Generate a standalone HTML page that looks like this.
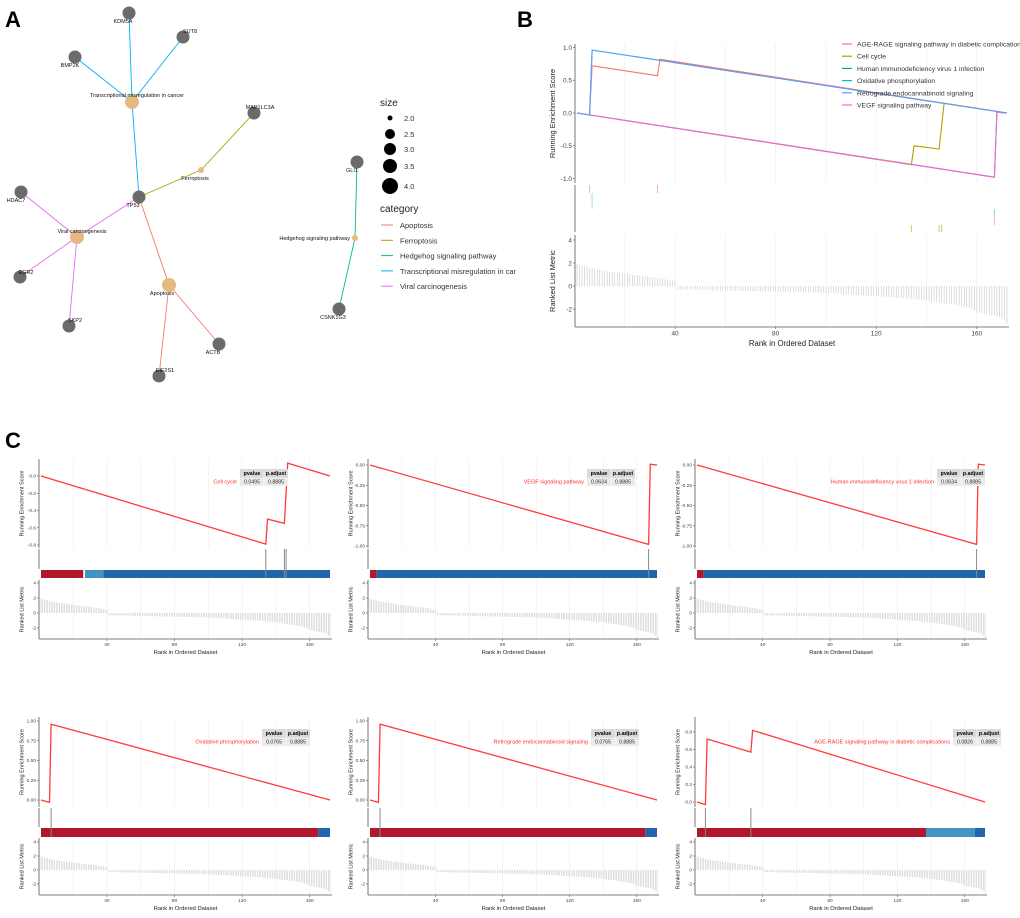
<!DOCTYPE html>
<html><head><meta charset="utf-8"><style>
html,body{margin:0;padding:0;background:#fff;}
svg{display:block;font-family:"Liberation Sans",sans-serif;}
</style></head><body>
<svg id="fig" width="1020" height="918" viewBox="0 0 1020 918" xmlns="http://www.w3.org/2000/svg"></svg>
<script>
// ---------- DATA ----------
const metric=[1.9,1.8,1.75,1.7,1.65,1.6,1.55,1.5,1.45,1.4,1.38,1.35,1.3,1.27,1.25,1.2,1.17,1.15,1.1,1.07,1.05,1.0,0.98,0.95,0.92,0.9,0.87,0.85,0.82,0.8,0.77,0.75,0.72,0.7,0.65,0.6,0.55,0.5,0.45,0.4,
-0.3,-0.3,-0.31,-0.31,-0.32,-0.32,-0.33,-0.33,-0.34,-0.34,-0.35,-0.35,-0.36,-0.36,-0.37,-0.37,-0.38,-0.38,-0.39,-0.39,-0.4,-0.4,-0.41,-0.41,-0.42,-0.42,-0.43,-0.43,-0.44,-0.44,-0.45,-0.45,-0.46,-0.46,-0.47,-0.47,-0.48,-0.48,-0.49,-0.49,-0.5,-0.5,-0.51,-0.51,-0.52,-0.52,-0.53,-0.53,-0.54,-0.54,-0.55,-0.55,-0.56,-0.56,-0.57,-0.57,-0.58,-0.58,-0.59,-0.6,
-0.62,-0.63,-0.65,-0.66,-0.68,-0.69,-0.7,-0.72,-0.73,-0.75,-0.76,-0.78,-0.79,-0.8,-0.82,-0.83,-0.85,-0.86,-0.88,-0.89,-0.9,-0.92,-0.93,-0.95,-0.96,-0.98,-0.99,-1.0,-1.02,-1.04,-1.06,-1.08,-1.1,-1.12,-1.14,-1.16,-1.18,-1.2,-1.22,-1.25,
-1.3,-1.33,-1.36,-1.4,-1.43,-1.46,-1.5,-1.53,-1.56,-1.6,-1.63,-1.66,-1.7,-1.75,-1.8,-1.85,-1.9,-2.0,-2.1,-2.2,-2.3,-2.35,-2.4,-2.45,-2.5,-2.55,-2.6,-2.65,-2.7,-2.8,-3.0,-3.3];

const setNames=["AGE-RAGE signaling pathway in diabetic complications","Cell cycle","Human immunodeficiency virus 1 infection","Oxidative phosphorylation","Retrograde endocannabinoid signaling","VEGF signaling pathway"];
const ageRanks=[1,6,7,33,34,172];      const ageES=[0,-0.03,0.72,0.57,0.82,0];
const cellRanks=[1,134,135,145,147,172]; const cellES=[0,-0.79,-0.5,-0.55,0.15,0];
const hivRanks=[1,167,168,172];        const hivES=[0,-0.98,0.01,0];
const oxRanks=[1,6,7,172];             const oxES=[0,-0.03,0.96,0];
const retroRanks=[1,6,7,172];          const retroES=[0,-0.03,0.96,0];
const vegfRanks=[1,167,168,172];       const vegfES=[0,-0.98,0.01,0];
const ageHits=[6,33]; const cellHits=[134,145,146]; const hivHits=[167]; const oxHits=[7]; const retroHits=[7]; const vegfHits=[167];
const pvals=["0.0826","0.0495","0.0634","0.0765","0.0765","0.0634"];
const padj=["0.8885","0.8885","0.8885","0.8885","0.8885","0.8885"];
const xTicks=[40,80,120,160];
const rlTicks=[4,2,0,-2];
const bEsTicks=[1.0,0.5,0.0,-0.5,-1.0];
const cellTicks=[0.0,-0.2,-0.4,-0.6,-0.8];
const negTicks=[0.00,-0.25,-0.50,-0.75,-1.00];
const posTicks=[1.00,0.75,0.50,0.25,0.00];
const ageTicks=[0.8,0.6,0.4,0.2,0.0];
const cellBar=[[1,26,"#b2182b"],[27,38,"#4393c3"],[38,172,"#2166ac"]];
const negBar=[[1,5,"#b2182b"],[5,172,"#2166ac"]];
const posBar=[[1,165,"#b2182b"],[165,172,"#2166ac"]];
const ageBar=[[1,137,"#b2182b"],[137,166,"#4393c3"],[166,172,"#2166ac"]];

// ---------- HELPERS ----------
const S=document.getElementById('fig');
const NS="http://www.w3.org/2000/svg";
function mk(tag,a,parent){const e=document.createElementNS(NS,tag);for(const k in a)e.setAttribute(k,a[k]);(parent||S).appendChild(e);return e;}
function txt(x,y,s,size,a,parent){const e=mk('text',Object.assign({x:x,y:y,'font-size':size,fill:'#000'},a||{}),parent);e.textContent=s;return e;}

// ---------- LETTERS ----------
[["A",5,27],["B",517,27],["C",5,448]].forEach(l=>{const t=txt(l[1],l[2],l[0],22,{'font-weight':'bold'});

});

// ---------- PANEL A (network) ----------
const nodes={KDM5A:[129,13,0,123,21],SUT8:[183,37,0,190,31],BMP2K:[75,57,0,70,65],TRANS:[132,102,2,137,95],MAP1LC3A:[254,113,0,260,107],
FERRO:[201,170,1,195,178],TP53:[139,197,0,133,205],HDAC7:[21,192,0,16,200],VIRAL:[77,237,2,82,231],EGR2:[20,277,0,26,272],SKP2:[69,326,0,75,320],
APOP:[169,285,2,162,293],ACTB:[219,344,0,213,352],EIF2S1:[159,376,0,165,370],GLI1:[357,162,0,352,170],HEDGE:[355,238,1,350,238],CSNK1G3:[339,309,0,333,317]};
const labels={TRANS:"Transcriptional misregulation in cancer",FERRO:"Ferroptosis",VIRAL:"Viral carcinogenesis",APOP:"Apoptosis",HEDGE:"Hedgehog signaling pathway"};
const edges=[["KDM5A","TRANS","#00B0F6"],["SUT8","TRANS","#00B0F6"],["BMP2K","TRANS","#00B0F6"],["TRANS","TP53","#00B0F6"],
["FERRO","MAP1LC3A","#A3A500"],["TP53","FERRO","#A3A500"],["TP53","VIRAL","#E76BF3"],["HDAC7","VIRAL","#E76BF3"],["EGR2","VIRAL","#E76BF3"],["SKP2","VIRAL","#E76BF3"],
["TP53","APOP","#F8766D"],["APOP","ACTB","#F8766D"],["APOP","EIF2S1","#F8766D"],["GLI1","HEDGE","#00BF7D"],["HEDGE","CSNK1G3","#00BF7D"]];
edges.forEach(e=>{const a=nodes[e[0]],b=nodes[e[1]];const l=mk('line',{x1:a[0],y1:a[1],x2:b[0],y2:b[1],stroke:e[2],'stroke-width':0.9});

});
for(const k in nodes){const n=nodes[k];const r=n[2]==2?7:(n[2]==1?3:6.5);const col=n[2]?"#E5B97F":"#6b6b6b";
const c=mk('circle',{cx:n[0],cy:n[1],r:r,fill:col});


const t=txt(n[3],n[4]+2,labels[k]||k,5.5,{'text-anchor':k=="HEDGE"?'end':'middle',fill:'#111'});

}
// legend A
txt(380,106,"size",10,{fill:'#222'});
const sizeVals=["2.0","2.5","3.0","3.5","4.0"];const sizeR=[2.5,5,6,7,8];const sizeY=[118,134,149,166,186];
sizeVals.forEach((v,i)=>{const c=mk('circle',{cx:390,cy:sizeY[i],r:sizeR[i],fill:'#000'});


txt(404,sizeY[i]+3,v,7.5,{fill:'#333'});});
txt(380,212,"category",10,{fill:'#222'});
const catNames=["Apoptosis","Ferroptosis","Hedgehog signaling pathway","Transcriptional misregulation in car","Viral carcinogenesis"];
const catCols=["#F8766D","#A3A500","#00BF7D","#00B0F6","#E76BF3"];
catNames.forEach((n,i)=>{const y=225+i*15.3;mk('line',{x1:381,y1:y,x2:393,y2:y,stroke:catCols[i],'stroke-width':1});
const t=txt(400,y+3,n,7.5,{fill:'#333'});

});

// ---------- GSEA DRAWER ----------
function gsea(o){
  const N=172;
  const x=r=>o.x0+(r-1)*(o.x1-o.x0)/(N-1);
  const yE=v=>o.e0-v*o.eScale;
  const yR=v=>o.r0-v*o.rScale;
  const g=mk('g',{});
  
  
  for(let r=20;r<=160;r+=20){mk('line',{x1:x(r),y1:o.eTop,x2:x(r),y2:o.eBot,stroke:'#ececec','stroke-width':0.6},g);
    mk('line',{x1:x(r),y1:o.rTop,x2:x(r),y2:o.rBot,stroke:'#ececec','stroke-width':0.6},g);}
  mk('line',{x1:o.x0-2,y1:o.eTop,x2:o.x0-2,y2:o.eBot,stroke:'#555','stroke-width':0.8},g);
  mk('line',{x1:o.x0-2,y1:o.hTop,x2:o.x0-2,y2:o.hBot,stroke:'#555','stroke-width':0.8},g);
  mk('line',{x1:o.x0-2,y1:o.rTop,x2:o.x0-2,y2:o.rBot,stroke:'#555','stroke-width':0.8},g);
  mk('line',{x1:o.x0-2,y1:o.rBot,x2:o.x1+2,y2:o.rBot,stroke:'#555','stroke-width':0.8},g);
  o.eTicks.forEach(v=>{mk('line',{x1:o.x0-4,y1:yE(v),x2:o.x0-2,y2:yE(v),stroke:'#555','stroke-width':0.6},g);
    txt(o.x0-5,yE(v)+o.fs*0.35,v.toFixed(o.dec),o.fs,{'text-anchor':'end',fill:'#444'},g);});
  rlTicks.forEach(v=>{mk('line',{x1:o.x0-4,y1:yR(v),x2:o.x0-2,y2:yR(v),stroke:'#555','stroke-width':0.6},g);
    txt(o.x0-5,yR(v)+o.fs*0.35,String(v),o.fs,{'text-anchor':'end',fill:'#444'},g);});
  xTicks.forEach(v=>{mk('line',{x1:x(v),y1:o.rBot,x2:x(v),y2:o.rBot+2,stroke:'#555','stroke-width':0.6},g);
    txt(x(v),o.rBot+2+o.fs,String(v),o.fs,{'text-anchor':'middle',fill:'#444'},g);});
  const xt=txt((o.x0+o.x1)/2,o.rBot+4+o.fs*2.3,"Rank in Ordered Dataset",o.fs*1.2,{'text-anchor':'middle',fill:'#222'},g);
  
  
  const ey=(o.eTop+o.eBot)/2, ry=(o.rTop+o.rBot)/2, tx=o.x0-5-o.fs*2.6;
  const t1=txt(tx,ey,"Running Enrichment Score",o.fs*1.15,{'text-anchor':'middle',transform:`rotate(-90 ${tx} ${ey})`,fill:'#222'},g);
  
  
  const t2=txt(tx,ry,"Ranked List Metric",o.fs*1.15,{'text-anchor':'middle',transform:`rotate(-90 ${tx} ${ry})`,fill:'#222'},g);
  
  
  metric.forEach((v,i)=>{const b=mk('line',{x1:x(i+1),y1:yR(0),x2:x(i+1),y2:yR(v),stroke:'#c8c8c8','stroke-width':0.6},g);
    
    });
  (o.bar||[]).forEach(s=>{const r=mk('rect',{x:x(s[0]),y:o.bTop,width:x(s[1])-x(s[0]),height:o.bBot-o.bTop,fill:s[2]},g);
    
    });
  o.series.forEach(s=>{
    s.hits.forEach(h=>{const l=mk('line',{x1:x(h),y1:s.hy0,x2:x(h),y2:s.hy1,stroke:s.hc,'stroke-width':1},g);
      
      });
    const pts=s.ranks.map((r,i)=>x(r).toFixed(1)+","+yE(s.es[i]).toFixed(1)).join(" ");
    const p=mk('polyline',{points:pts,fill:'none',stroke:s.col,'stroke-width':o.lw},g);
    
    
  });
  if(o.table){const T=o.table;const w1=T.w/2;
    mk('rect',{x:T.x,y:T.y,width:T.w,height:T.h*2,fill:'#ebebeb'},g);
    mk('rect',{x:T.x,y:T.y,width:T.w,height:T.h,fill:'#d9d9d9'},g);
    mk('line',{x1:T.x+w1,y1:T.y,x2:T.x+w1,y2:T.y+T.h*2,stroke:'#fff','stroke-width':0.6},g);
    txt(T.x+w1/2,T.y+T.h*0.72,"pvalue",o.fs*1.1,{'text-anchor':'middle','font-weight':'bold'},g);
    txt(T.x+w1*1.5,T.y+T.h*0.72,"p.adjust",o.fs*1.1,{'text-anchor':'middle','font-weight':'bold'},g);
    txt(T.x+w1/2,T.y+T.h*1.72,T.pv,o.fs*1.1,{'text-anchor':'middle',fill:'#333'},g);
    txt(T.x+w1*1.5,T.y+T.h*1.72,T.pa,o.fs*1.1,{'text-anchor':'middle',fill:'#333'},g);
    const lt=txt(T.x-3,T.y+T.h*1.72,T.label,o.fs*1.15,{'text-anchor':'end',fill:'#ff3030'},g);
    
    }
  return g;
}

// ---------- PANEL B ----------
const bCols=["#F8766D","#B79F00","#00BA38","#00BFC4","#619CFF","#F564E3"];
gsea({name:'panel-b-gsea',x0:577,x1:1007,eTop:44,eBot:183,e0:113,eScale:65.5,eTicks:bEsTicks,dec:1,
  hTop:185,hBot:232,rTop:235,rBot:327,r0:286,rScale:11.5,fs:6.5,lw:1.1,
  series:[
   {ranks:oxRanks,es:oxES,col:bCols[3],hits:oxHits,hy0:193,hy1:209,hc:'#9fdfe3'},
   {ranks:hivRanks,es:hivES,col:bCols[2],hits:hivHits,hy0:209,hy1:217,hc:'#8fd9a6'},
   {ranks:cellRanks,es:cellES,col:bCols[1],hits:cellHits,hy0:225,hy1:232,hc:'#d8c870'},
   {ranks:ageRanks,es:ageES,col:bCols[0],hits:ageHits,hy0:185,hy1:193,hc:'#f8b0a8'},
   {ranks:vegfRanks,es:vegfES,col:bCols[5],hits:vegfHits,hy0:217,hy1:225,hc:'#f5b0ec'},
   {ranks:retroRanks,es:retroES,col:bCols[4],hits:[],hy0:0,hy1:0,hc:'#000'}]});
setNames.forEach((n,i)=>{const y=44+i*12.2;mk('line',{x1:842,y1:y,x2:852,y2:y,stroke:bCols[i],'stroke-width':1.2});
  const t=txt(857,y+2.5,n,6.8,{fill:'#333'});
  
  });

// ---------- PANEL C ----------
const topRow={eTop:459,eBot:548,hTop:549,hBot:569,bTop:570,bBot:578,rTop:580,rBot:639,r0:613,rScale:7.5,fs:4.8,lw:1.3};
const botRow={eTop:717,eBot:807,hTop:808,hBot:827,bTop:828,bBot:837,rTop:838,rBot:895,r0:870,rScale:7,fs:4.8,lw:1.3};
const cols=[[41,330],[370,657],[697,985]];
const cPanels=[
 [topRow,0,'panel-c-cell-cycle',cellRanks,cellES,cellHits,cellTicks,1,476,86.25,cellBar,1,240],
 [topRow,1,'panel-c-vegf',vegfRanks,vegfES,vegfHits,negTicks,2,465,81,negBar,5,587],
 [topRow,2,'panel-c-hiv',hivRanks,hivES,hivHits,negTicks,2,465,81,negBar,2,937],
 [botRow,0,'panel-c-oxphos',oxRanks,oxES,oxHits,posTicks,2,800,79,posBar,3,262],
 [botRow,1,'panel-c-retrograde',retroRanks,retroES,retroHits,posTicks,2,800,79,posBar,4,591],
 [botRow,2,'panel-c-age-rage',ageRanks,ageES,ageHits,ageTicks,1,802,87.5,ageBar,0,953]];
cPanels.forEach(p=>{const R=p[0];
  gsea(Object.assign({},R,{name:p[2],x0:cols[p[1]][0],x1:cols[p[1]][1],e0:p[8],eScale:p[9],eTicks:p[6],dec:p[7],bar:p[10],
   series:[{ranks:p[3],es:p[4],col:'#ff3b3b',hits:p[5],hy0:R.hTop,hy1:R.bBot,hc:'#888'}],
   table:{x:p[12],y:R.eTop+(R===topRow?10:12),w:48,h:8.5,pv:pvals[p[11]],pa:padj[p[11]],label:setNames[p[11]]}}));
});
</script>
</body></html>
